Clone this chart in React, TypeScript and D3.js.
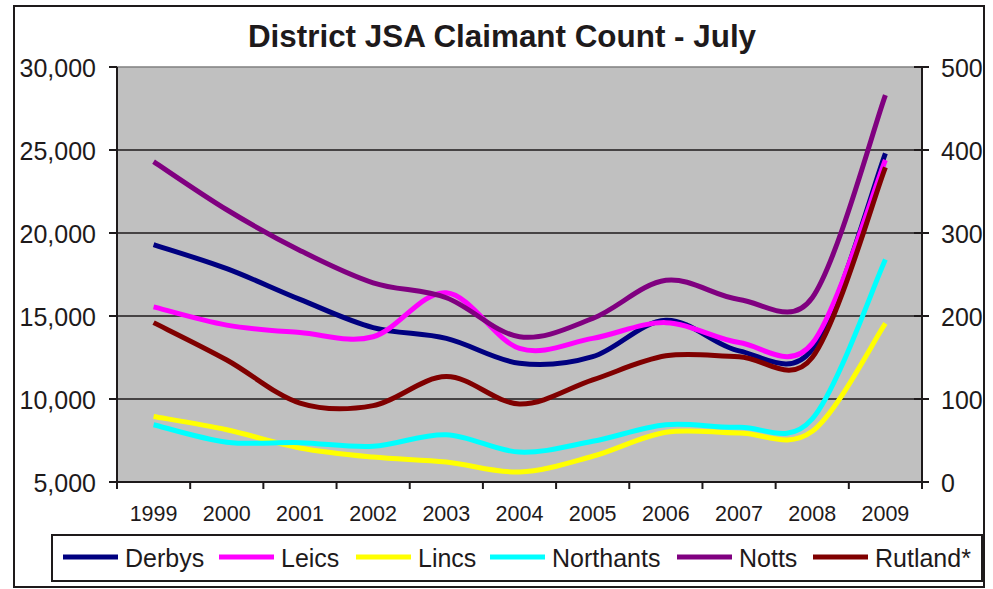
import React from 'react';
import * as d3 from 'd3';

const years = ['1999', '2000', '2001', '2002', '2003', '2004', '2005', '2006', '2007', '2008', '2009'];
const derbys = [19300, 17850, 16000, 14300, 13650, 12150, 12550, 14750, 12900, 13000, 24800];
const leics = [15550, 14450, 14000, 13750, 16400, 13050, 13650, 14600, 13400, 13350, 24400];
const lincs = [8950, 8150, 7050, 6500, 6200, 5600, 6550, 8000, 7950, 8050, 14550];
const northants = [8450, 7400, 7370, 7150, 7850, 6800, 7450, 8450, 8300, 8800, 18400];
const notts = [24300, 21400, 18950, 17000, 16100, 13750, 14850, 17150, 16000, 16100, 28300];
const rutland = [192, 147, 95, 92, 127, 94, 123, 152, 151, 150, 379];

const leftTicks = [5000, 10000, 15000, 20000, 25000, 30000];
const rightTicks = [0, 100, 200, 300, 400, 500];

const seriesNames = ['Derbys', 'Leics', 'Lincs', 'Northants', 'Notts', 'Rutland*'];
const seriesColors = ['#000080', '#FF00FF', '#FFFF00', '#00FFFF', '#800080', '#800000'];
const seriesValues = [derbys, leics, lincs, northants, notts, rutland];
const seriesAxis = ['left', 'left', 'left', 'left', 'left', 'right'];

const W = 993;
const H = 589;
const P = { left: 117, right: 922, top: 67, bottom: 482 };
const legendX = [63, 219, 356, 490, 677, 813];
const FONT = "'Liberation Sans', Arial, Helvetica, sans-serif";
const INK = '#1e1a1b';

// Spreadsheet-style smoothed line: Bezier segments with 1/6 tangents, clamped for short segments.
function SmoothCurve(this: any, context: any) {
  this._context = context;
}
SmoothCurve.prototype = {
  areaStart() {},
  areaEnd() {},
  lineStart() {
    this._pts = [];
  },
  lineEnd() {
    const p: number[][] = this._pts;
    const ctx = this._context;
    if (!p.length) return;
    ctx.moveTo(p[0][0], p[0][1]);
    const dist = (a: number[], b: number[]) => Math.hypot(b[0] - a[0], b[1] - a[1]);
    for (let i = 0; i < p.length - 1; i++) {
      const P0 = p[Math.max(0, i - 1)];
      const P1 = p[i];
      const P2 = p[i + 1];
      const P3 = p[Math.min(p.length - 1, i + 2)];
      const d12 = dist(P1, P2);
      const d02 = dist(P0, P2);
      const d13 = dist(P1, P3);
      const f = d02 / 6 < d12 / 2 ? 1 / 6 : d12 / d02 / 2;
      const f1 = d13 / 6 < d12 / 2 ? 1 / 6 : d12 / d13 / 2;
      const c1x = P1[0] + (P2[0] - P0[0]) * f;
      const c1y = P1[1] + (P2[1] - P0[1]) * f;
      const c2x = P2[0] - (P3[0] - P1[0]) * f1;
      const c2y = P2[1] - (P3[1] - P1[1]) * f1;
      ctx.bezierCurveTo(c1x, c1y, c2x, c2y, P2[0], P2[1]);
    }
  },
  point(x: number, y: number) {
    this._pts.push([+x, +y]);
  },
};
const curveSmooth = (context: any) => new (SmoothCurve as any)(context);

export default function App() {
  const x = d3.scaleBand<string>().domain(years).range([P.left, P.right]).padding(0);
  const yL = d3.scaleLinear().domain([5000, 30000]).range([P.bottom, P.top]);
  const yR = d3.scaleLinear().domain([0, 500]).range([P.bottom, P.top]);
  const cx = (i: number) => (x(years[i]) as number) + x.bandwidth() / 2;
  const mk = (s: d3.ScaleLinear<number, number>) =>
    d3
      .line<number>()
      .x((_, i) => cx(i))
      .y((d) => s(d))
      .curve(curveSmooth as any);
  const fmt = d3.format(',');
  const bounds = years.map((y) => x(y) as number).concat([P.right]);

  return (
    <svg
      width={W}
      height={H}
      style={{ position: 'absolute', left: 0, top: 0, background: '#fff' }}
      fontFamily={FONT}
    >
      <rect x={0} y={0} width={W} height={H} fill="#fff" />
      <rect x={14} y={6} width={970} height={581} fill="#fff" stroke={INK} strokeWidth={2} />
      <text x={502} y={47} textAnchor="middle" fontSize={31.4} fontWeight="bold" fill={INK}>
        District JSA Claimant Count - July
      </text>

      <rect x={P.left} y={P.top} width={P.right - P.left} height={P.bottom - P.top} fill="#C0C0C0" stroke="#808080" strokeWidth={1.5} />

      {leftTicks.slice(1, -1).map((t) => (
        <line key={'g' + t} x1={P.left} x2={P.right} y1={yL(t)} y2={yL(t)} stroke={INK} strokeWidth={1.4} />
      ))}

      {seriesValues.map((vals, k) => {
        const s = seriesAxis[k] === 'left' ? yL : yR;
        return (
          <path
            key={seriesNames[k]}
            d={mk(s)(vals) || ''}
            fill="none"
            stroke={seriesColors[k]}
            strokeWidth={5}
            strokeLinejoin="round"
          />
        );
      })}

      <line x1={P.left} x2={P.left} y1={P.top} y2={P.bottom} stroke={INK} strokeWidth={2} />
      <line x1={P.right} x2={P.right} y1={P.top} y2={P.bottom} stroke={INK} strokeWidth={2} />
      <line x1={P.left - 1} x2={P.right + 1} y1={P.bottom} y2={P.bottom} stroke={INK} strokeWidth={2} />

      {leftTicks.map((t) => (
        <g key={'l' + t}>
          <line x1={P.left - 8} x2={P.left} y1={yL(t)} y2={yL(t)} stroke={INK} strokeWidth={2} />
          <text x={96} y={yL(t) + 10} textAnchor="end" fontSize={25} fill={INK}>
            {fmt(t)}
          </text>
        </g>
      ))}

      {rightTicks.map((t) => (
        <g key={'r' + t}>
          <line x1={P.right - 8} x2={P.right + 7} y1={yR(t)} y2={yR(t)} stroke={INK} strokeWidth={2} />
          <text x={941} y={yR(t) + 10} textAnchor="start" fontSize={25} fill={INK}>
            {t}
          </text>
        </g>
      ))}

      {bounds.map((b, i) => (
        <line key={'b' + i} x1={b} x2={b} y1={P.bottom} y2={P.bottom + 7} stroke={INK} strokeWidth={2} />
      ))}

      {years.map((y, i) => (
        <text key={y} x={cx(i)} y={521} textAnchor="middle" fontSize={21.5} fill={INK}>
          {y}
        </text>
      ))}

      <rect x={52} y={535} width={930} height={46} fill="#fff" stroke={INK} strokeWidth={2} />
      {seriesNames.map((n, k) => (
        <g key={'lg' + n}>
          <line x1={legendX[k]} x2={legendX[k] + 55} y1={557} y2={557} stroke={seriesColors[k]} strokeWidth={5} />
          <text x={legendX[k] + 62} y={566.5} fontSize={25} fill={INK}>
            {n}
          </text>
        </g>
      ))}
    </svg>
  );
}
